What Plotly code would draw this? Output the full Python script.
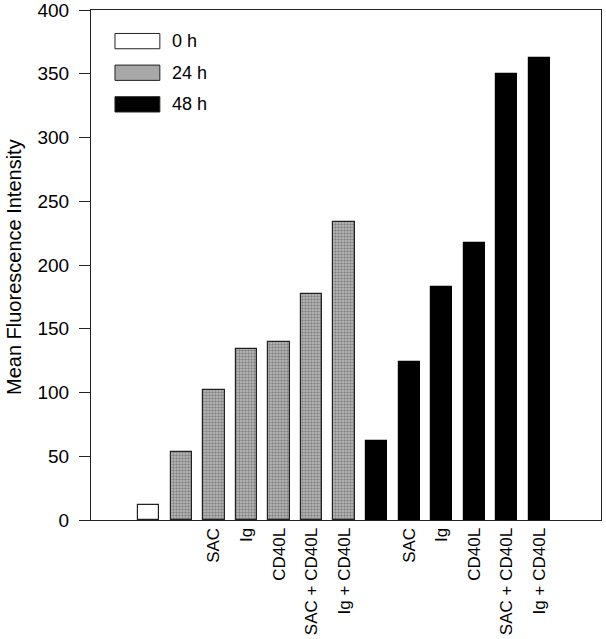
import plotly.graph_objects as go

# category slots along the x axis (slot 0 stays empty)
pos_0h = [1]
pos_24h = [2, 3, 4, 5, 6, 7]
pos_48h = [8, 9, 10, 11, 12, 13]

val_0h = [12]
val_24h = [53, 102, 134, 140, 177, 234]
val_48h = [62, 124, 183, 217, 350, 362]

tick_pos = [3, 4, 5, 6, 7, 9, 10, 11, 12, 13]
tick_text = ["SAC", "Ig", "CD40L", "SAC + CD40L", "Ig + CD40L",
             "SAC", "Ig", "CD40L", "SAC + CD40L", "Ig + CD40L"]

legend_names = ["0 h", "24 h", "48 h"]
legend_fill = ["white", "#a8a8a8", "black"]

font = "Liberation Sans, Arial, sans-serif"
bw = 0.65

fig = go.Figure()
fig.add_trace(go.Bar(x=pos_0h, y=val_0h, width=bw, name="0 h",
                     marker=dict(color="white", line=dict(color="#222", width=1.2))))
fig.add_trace(go.Bar(x=pos_24h, y=val_24h, width=bw, name="24 h",
                     marker=dict(color="#bdbdbd", line=dict(color="#222", width=1.2),
                                 pattern=dict(shape=".", fgcolor="#4a4a4a", bgcolor="#bdbdbd",
                                              size=3, solidity=0.5))))
fig.add_trace(go.Bar(x=pos_48h, y=val_48h, width=bw, name="48 h",
                     marker=dict(color="black", line=dict(color="black", width=1.2))))

# hand-drawn legend box in the top-left corner
shapes = []
annotations = []
for i, (nm, fc) in enumerate(zip(legend_names, legend_fill)):
    yc = 0.939 - i * 0.062
    shapes.append(dict(type="rect", xref="paper", yref="paper",
                       x0=0.047, x1=0.135, y0=yc - 0.015, y1=yc + 0.015,
                       fillcolor=fc, line=dict(color="#222", width=1)))
    annotations.append(dict(xref="paper", yref="paper", x=0.155, y=yc, text=nm,
                            showarrow=False, xanchor="left", yanchor="middle",
                            font=dict(size=18, color="black", family=font)))

# y axis title placed by hand, closer to the left edge than plotly puts it
annotations.append(dict(xref="paper", yref="paper", x=-0.152, y=0.497,
                        text="Mean Fluorescence Intensity", textangle=-90,
                        showarrow=False, xanchor="center", yanchor="middle",
                        font=dict(size=20, color="black", family=font)))

fig.update_layout(
    width=606, height=639,
    margin=dict(l=91, r=5, t=10, b=119),
    paper_bgcolor="white", plot_bgcolor="white",
    showlegend=False, bargap=0,
    font=dict(family=font, color="black"),
    shapes=shapes, annotations=annotations,
    xaxis=dict(range=[-0.78, 14.9], tickvals=tick_pos, ticktext=tick_text,
               tickangle=-90, tickfont=dict(size=17), ticks="", automargin=False,
               showgrid=False, zeroline=False, showline=True, linecolor="#222",
               linewidth=1.2, mirror=True),
    yaxis=dict(range=[0, 400], dtick=50, ticks="outside", ticklen=11,
               tickcolor="#222", tickfont=dict(size=19), showgrid=False,
               zeroline=False, showline=True, linecolor="#222", linewidth=1.2,
               mirror=True, automargin=False, ticklabeloverflow="allow",
               ticklabelstandoff=6),
)

# drop the default page margin so the figure sits at the window's corner
fig.write_html("out.html", config={"displayModeBar": False},
               post_script="document.body.style.margin='0';")
